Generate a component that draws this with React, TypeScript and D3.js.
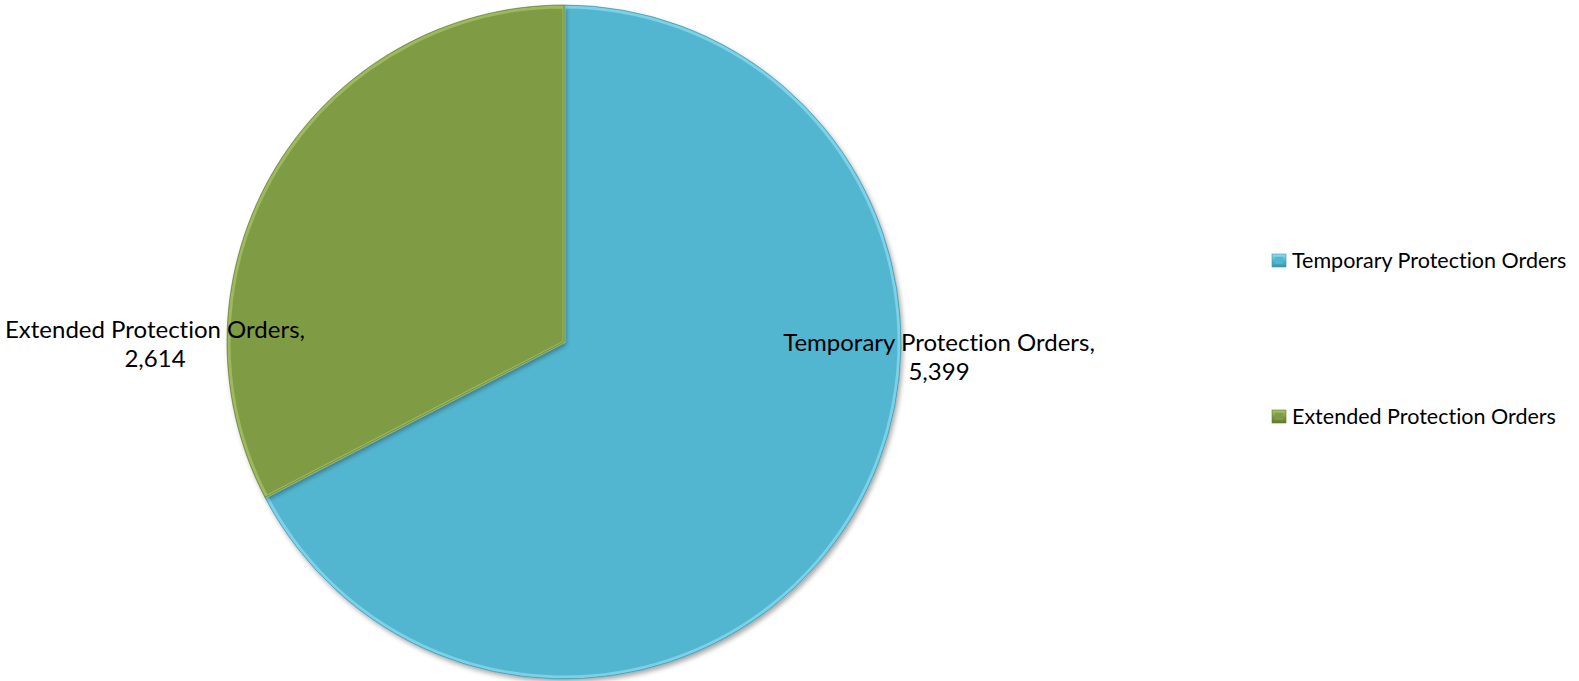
import React from "react";
import * as d3 from "d3";

const categories = ["Temporary Protection Orders", "Extended Protection Orders"];
const values = [5399, 2614];
const colors = ["#53B6D0", "#7F9C44"];
const lightColors = ["#8FDDF0", "#A9C46A"];
const darkColors = ["#3E93AA", "#5F7A2E"];

const W = 1579;
const H = 681;
const cx = 564;
const cy = 342;
const R = 337;
const FONT = "Lato, 'Open Sans', sans-serif";

export default function App() {
  const pie = d3.pie<number>().sort(null).value((d) => d);
  const arcs = pie(values);
  const arc = d3.arc<d3.PieArcDatum<number>>().innerRadius(0).outerRadius(R);
  const innerArc = d3.arc<d3.PieArcDatum<number>>().innerRadius(0).outerRadius(R - 2);
  const fmt = d3.format(",");

  const labelPos = [
    { x: 939, y: 351 },
    { x: 155, y: 338 },
  ];
  const legendY = d3.scalePoint<string>().domain(categories).range([261, 417]);
  const textStyle = { fontVariantLigatures: "none" } as React.CSSProperties;

  return (
    <svg width={W} height={H} style={{ position: "absolute", left: 0, top: 0 }}>
      <defs>
        <filter id="shadow" x="-10%" y="-10%" width="120%" height="120%">
          <feDropShadow dx="2" dy="3" stdDeviation="2.5" floodColor="#000" floodOpacity="0.35" />
        </filter>
        {colors.map((c, i) => (
          <linearGradient key={i} id={`lg${i}`} x1="0" y1="0" x2="0" y2="1">
            <stop offset="0" stopColor={lightColors[i]} />
            <stop offset="0.5" stopColor={c} />
            <stop offset="1" stopColor={darkColors[i]} />
          </linearGradient>
        ))}
      </defs>
      <g transform={`translate(${cx},${cy})`}>
        {arcs.map((a, i) => (
          <g key={i}>
            <path d={arc(a) || ""} fill={colors[i]} filter="url(#shadow)" />
            <path
              d={innerArc(a) || ""}
              fill="none"
              stroke={lightColors[i]}
              strokeWidth={3}
              strokeOpacity={0.7}
              strokeLinejoin="round"
            />
            <path d={arc(a) || ""} fill="none" stroke={darkColors[i]} strokeWidth={0.8} strokeOpacity={0.8} />
          </g>
        ))}
      </g>
      {arcs.map((a, i) => (
        <text key={i} fontFamily={FONT} fontSize={24} fill="#000" textAnchor="middle" style={textStyle}>
          <tspan x={labelPos[i].x} y={labelPos[i].y}>
            {categories[i] + ","}
          </tspan>
          <tspan x={labelPos[i].x} dy={29}>
            {fmt(values[i])}
          </tspan>
        </text>
      ))}
      {categories.map((c, i) => {
        const y = legendY(c) as number;
        return (
          <g key={c}>
            <rect x={1272} y={y - 7} width={14} height={13} fill={`url(#lg${i})`} stroke={darkColors[i]} strokeWidth={0.6} />
            <rect x={1275} y={y - 4} width={8} height={7} fill={colors[i]} />
            <text x={1292} y={y + 7} fontFamily={FONT} fontSize={21.5} fill="#000" style={textStyle}>
              {c}
            </text>
          </g>
        );
      })}
    </svg>
  );
}
